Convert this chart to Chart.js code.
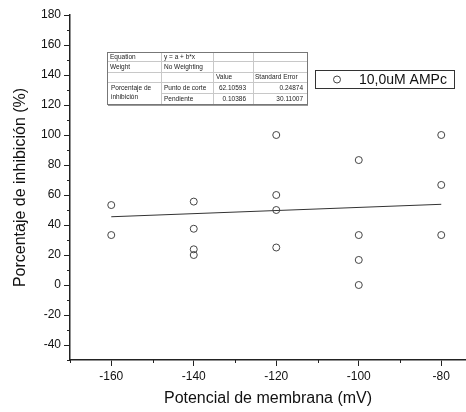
<!DOCTYPE html>
<html>
<head>
<meta charset="utf-8">
<script src="https://cdn.jsdelivr.net/npm/chart.js@4/dist/chart.umd.min.js"></script>
<style>
  body { margin: 0; background: #fff; }
  canvas { display: block; }
</style>
</head>
<body>
<canvas id="chart" width="466" height="412"></canvas>
<script>
const membranePotential = [-160, -160, -140, -140, -140, -140, -120, -120, -120, -120, -100, -100, -100, -100, -80, -80, -80];
const inhibition = [53.3, 33.3, 55.6, 37.5, 23.8, 20, 100, 60, 50, 25, 83.3, 33.3, 16.7, 0, 100, 66.7, 33.3];

// linear fit line (from the fit table)
const fitX = [-160, -80];
const fitY = [45.5, 53.8];

const xMinorTicks = [-170, -150, -130, -110, -90];
const yMinorTicks = [-50, -30, -10, 10, 30, 50, 70, 90, 110, 130, 150, 170];

const seriesLabel = '10,0uM AMPc';

const fitTable = [
    ['Equation', 'y = a + b*x', '', ''],
    ['Weight', 'No Weighting', '', ''],
    ['', '', 'Value', 'Standard Error'],
    ['Porcentaje de|inhibición', 'Punto de corte', '62.10593', '0.24874'],
    ['', 'Pendiente', '0.10386', '30.11007']
];

const FONT = "'Liberation Sans', Arial, sans-serif";
const AXIS_COLOR = '#222';

// minor ticks, drawn through the chart's own scales
const minorTicks = {
    id: 'minorTicks',
    afterDraw(chart) {
        const { ctx, scales: { x, y } } = chart;
        ctx.save();
        ctx.strokeStyle = AXIS_COLOR;
        ctx.lineWidth = 1;
        ctx.beginPath();
        yMinorTicks.forEach(v => {
            const py = Math.round(y.getPixelForValue(v)) + 0.5;
            ctx.moveTo(y.right - 3, py);
            ctx.lineTo(y.right, py);
        });
        xMinorTicks.forEach(v => {
            const px = Math.round(x.getPixelForValue(v)) + 0.5;
            ctx.moveTo(px, x.top);
            ctx.lineTo(px, x.top + 3);
        });
        ctx.stroke();
        ctx.restore();
    }
};

// legend box and fit parameter table
const overlays = {
    id: 'overlays',
    afterDraw(chart) {
        const ctx = chart.ctx;
        ctx.save();

        // legend
        ctx.fillStyle = '#fff';
        ctx.fillRect(315, 70, 139, 18);
        ctx.strokeStyle = '#333';
        ctx.lineWidth = 1;
        ctx.strokeRect(315.5, 70.5, 139, 18);
        ctx.beginPath();
        ctx.arc(337, 79.5, 3.5, 0, Math.PI * 2);
        ctx.strokeStyle = '#444';
        ctx.stroke();
        ctx.fillStyle = '#111';
        ctx.font = '14px ' + FONT;
        ctx.textBaseline = 'middle';
        ctx.textAlign = 'left';
        ctx.fillText(seriesLabel, 359, 80);

        // table
        const cols = [107, 161, 213, 253, 307];
        const rows = [52, 61, 72, 82, 93, 104];
        ctx.fillStyle = '#fff';
        ctx.fillRect(cols[0], rows[0], cols[4] - cols[0], rows[5] - rows[0]);

        ctx.strokeStyle = '#c8c8c8';
        ctx.beginPath();
        for (let c = 1; c < 4; c++) {
            ctx.moveTo(cols[c] + 0.5, rows[0]);
            ctx.lineTo(cols[c] + 0.5, rows[5]);
        }
        for (let r = 1; r < 5; r++) {
            const x0 = r === 4 ? cols[1] : cols[0];
            ctx.moveTo(x0, rows[r] + 0.5);
            ctx.lineTo(cols[4], rows[r] + 0.5);
        }
        ctx.stroke();

        ctx.strokeStyle = '#777';
        ctx.strokeRect(cols[0] + 0.5, rows[0] + 0.5, cols[4] - cols[0], rows[5] - rows[0]);
        ctx.fillStyle = '#999';
        ctx.fillRect(cols[0] + 1, rows[5] + 1, cols[4] - cols[0], 1);

        ctx.font = '6.5px ' + FONT;
        ctx.fillStyle = '#222';
        fitTable.forEach((row, r) => {
            row.forEach((text, c) => {
                if (!text) return;
                if (c === 0 && r === 3) {
                    const parts = text.split('|');
                    ctx.textAlign = 'left';
                    ctx.fillText(parts[0], cols[0] + 4, 88);
                    ctx.fillText(parts[1], cols[0] + 4, 97);
                    return;
                }
                const midY = (rows[r] + rows[r + 1]) / 2 + 0.5;
                const isNumber = r >= 3 && c >= 2;
                if (isNumber) {
                    ctx.textAlign = 'right';
                    ctx.fillText(text, c === 2 ? cols[3] - 7 : cols[4] - 4, midY);
                } else {
                    ctx.textAlign = 'left';
                    ctx.fillText(text, cols[c] + (c === 3 ? 2 : 3), midY);
                }
            });
        });
        ctx.restore();
    }
};

const scatterPoints = membranePotential.map((v, i) => ({ x: v, y: inhibition[i] }));
const fitPoints = fitX.map((v, i) => ({ x: v, y: fitY[i] }));

const config = {
    type: 'scatter',
    data: {
        datasets: [{
            label: seriesLabel,
            data: scatterPoints,
            pointStyle: 'circle',
            pointRadius: 3.5,
            pointHoverRadius: 3.5,
            pointBorderWidth: 1,
            pointBackgroundColor: 'rgba(255,255,255,0)',
            pointBorderColor: '#444'
        }, {
            type: 'line',
            label: 'fit',
            data: fitPoints,
            borderColor: '#333',
            borderWidth: 1,
            pointRadius: 0,
            fill: false
        }]
    },
    options: {
        responsive: false,
        animation: false,
        devicePixelRatio: 1,
        layout: { autoPadding: false, padding: { top: 15, right: 0, left: 0, bottom: 0 } },
        plugins: {
            legend: { display: false },
            tooltip: { enabled: false }
        },
        scales: {
            x: {
                type: 'linear',
                min: -170,
                max: -74,
                afterFit: scale => {
                    scale.height = 52;
                    scale.paddingLeft = 0;
                    scale.paddingRight = 0;
                },
                border: { color: AXIS_COLOR, width: 1.5 },
                grid: { drawOnChartArea: false, tickLength: 6, color: AXIS_COLOR },
                ticks: {
                    stepSize: 20,
                    includeBounds: false,
                    padding: 3,
                    color: '#111',
                    font: { family: FONT, size: 12 }
                },
                title: {
                    display: true,
                    text: 'Potencial de membrana (mV)',
                    color: '#111',
                    padding: { top: 0, bottom: 4 },
                    font: { family: FONT, size: 16 }
                }
            },
            y: {
                min: -50,
                max: 180,
                afterFit: scale => {
                    scale.width = 70;
                    scale.paddingTop = 0;
                    scale.paddingBottom = 0;
                },
                border: { color: AXIS_COLOR, width: 1.5 },
                grid: { drawOnChartArea: false, tickLength: 6, color: AXIS_COLOR },
                ticks: {
                    stepSize: 20,
                    includeBounds: false,
                    padding: 3,
                    color: '#111',
                    font: { family: FONT, size: 12 }
                },
                title: {
                    display: true,
                    text: 'Porcentaje de inhibición (%)',
                    color: '#111',
                    padding: { top: 11, bottom: 0 },
                    font: { family: FONT, size: 16 }
                }
            }
        }
    },
    plugins: [minorTicks, overlays]
};

const ctx = document.getElementById('chart').getContext('2d');
const chart = new Chart(ctx, config);
</script>
</body>
</html>
